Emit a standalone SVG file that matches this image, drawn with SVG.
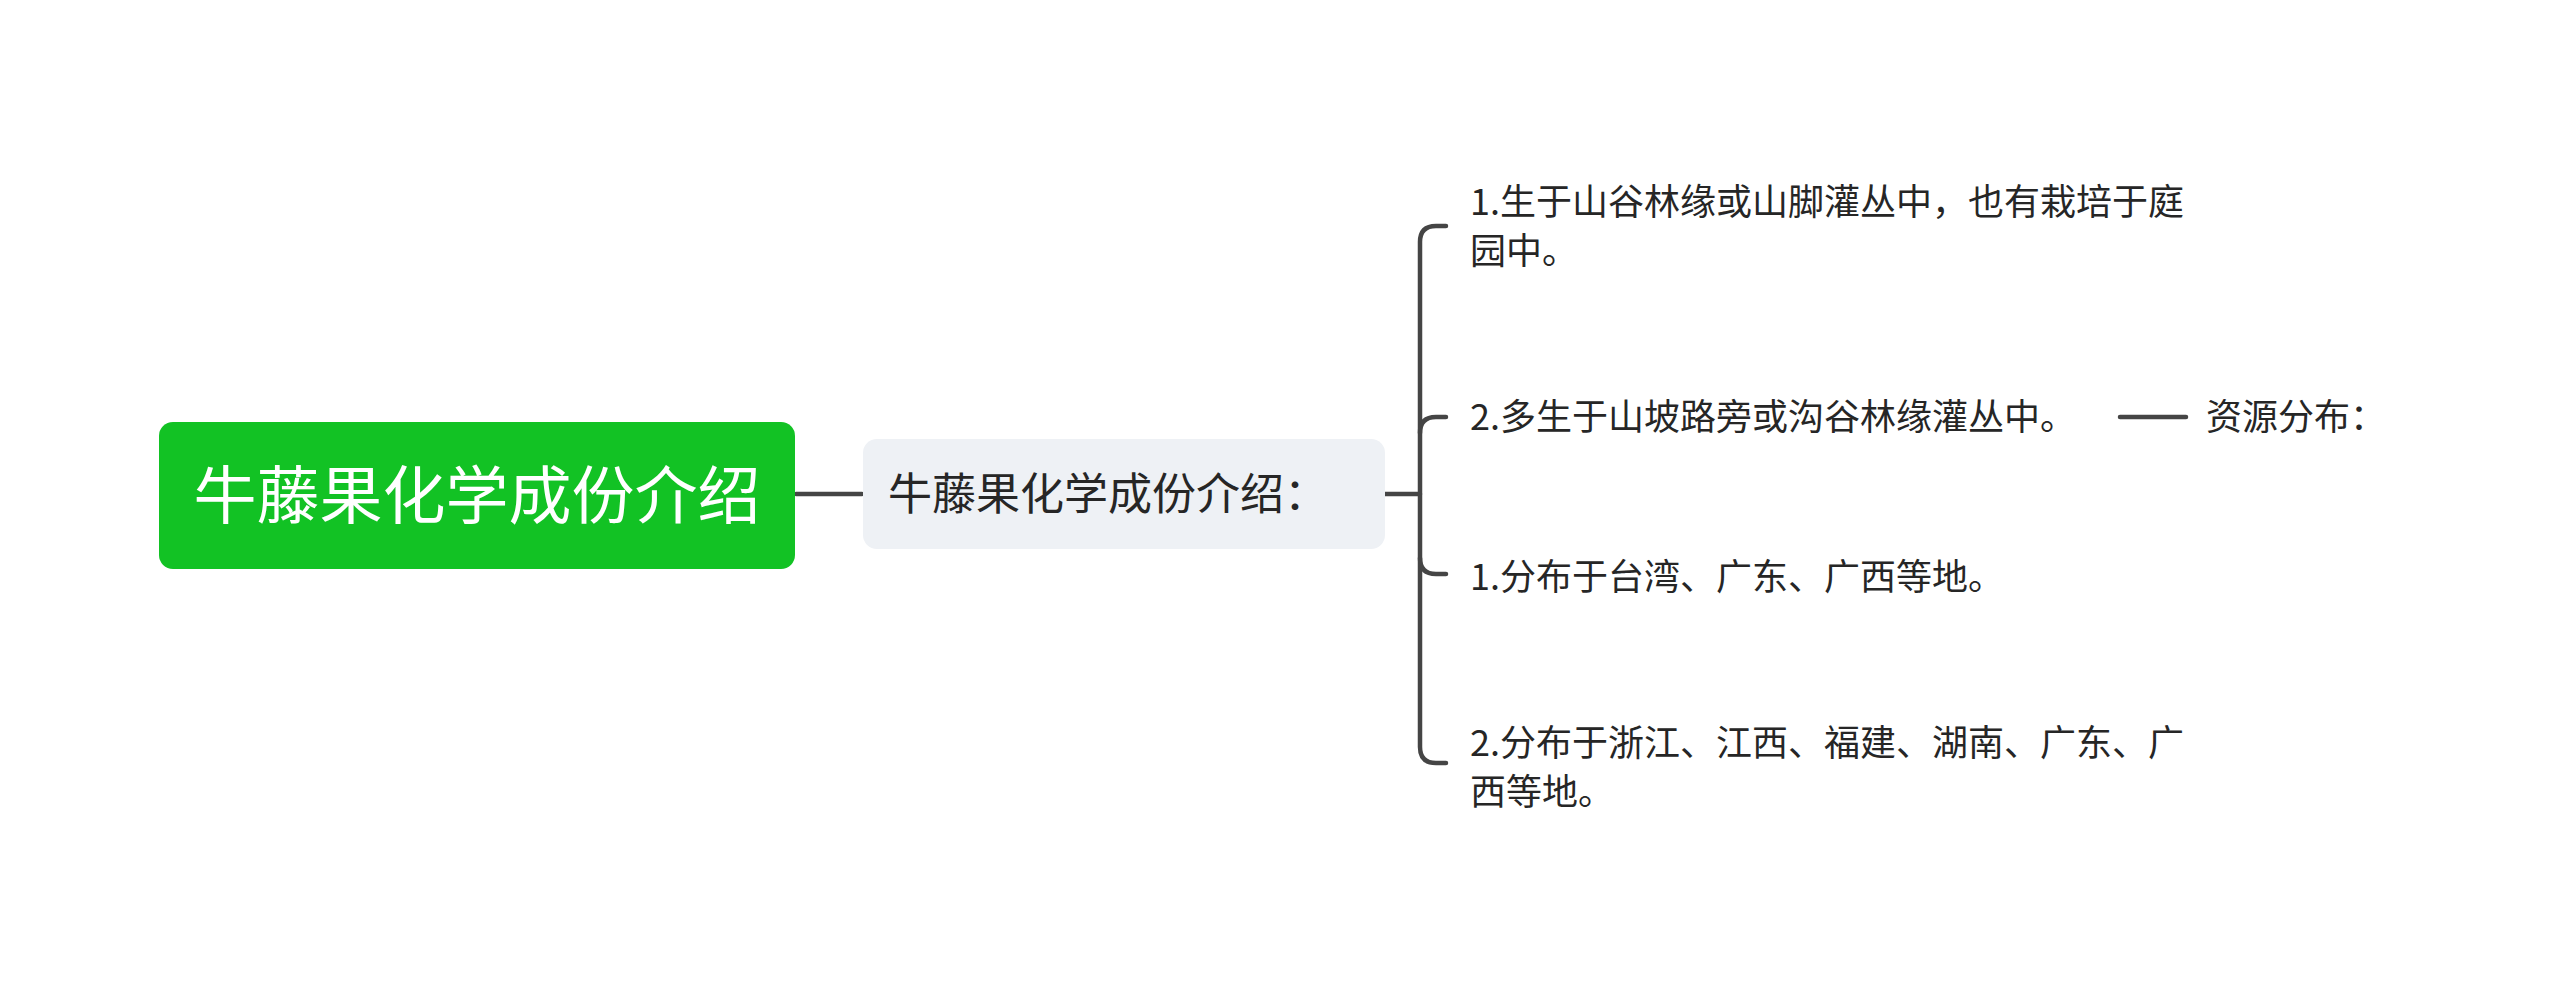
<svg xmlns="http://www.w3.org/2000/svg" width="2560" height="987" viewBox="0 0 2560 987">
<style>
text{font-family:"Noto Sans CJK SC","Noto Sans",sans-serif;}
.c{fill:none;stroke:#454545;stroke-width:4.5;stroke-linecap:round}
.t{font-size:36px;fill:#262626}
</style>
<rect width="2560" height="987" fill="#fff"/>
<g id="connectors">
<path class="c" d="M796 494H862"/>
<path class="c" d="M1385 494H1420"/>
<path class="c" d="M1446 226H1436Q1420 226 1420 242V747Q1420 763 1436 763H1446"/>
<path class="c" d="M1446 417H1436Q1420 417 1420 433"/>
<path class="c" d="M1446 574H1436Q1420 574 1420 558"/>
<path class="c" d="M2120 417H2186"/>
</g>
<g id="root">
<rect x="159" y="422" width="636" height="147" rx="14" fill="#12c224"/>
<text x="477" y="518" font-size="63" fill="#fff" text-anchor="middle">牛藤果化学成份介绍</text>
</g>
<g id="sub">
<rect x="863" y="439" width="522" height="110" rx="14" fill="#eef1f5"/>
<text x="888" y="510" font-size="44" fill="#262626">牛藤果化学成份介绍：</text>
</g>
<g id="n1"><text class="t" x="1470" y="215">1.生于山谷林缘或山脚灌丛中，也有栽培于庭</text><text class="t" x="1470" y="264">园中。</text></g>
<g id="n2"><text class="t" x="1470" y="430">2.多生于山坡路旁或沟谷林缘灌丛中。</text></g>
<g id="n3"><text class="t" x="1470" y="590">1.分布于台湾、广东、广西等地。</text></g>
<g id="n4"><text class="t" x="1470" y="756">2.分布于浙江、江西、福建、湖南、广东、广</text><text class="t" x="1470" y="805">西等地。</text></g>
<g id="n5"><text class="t" x="2206" y="430">资源分布：</text></g>
</svg>
